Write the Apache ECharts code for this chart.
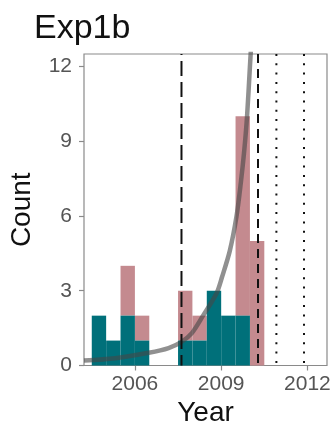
<!DOCTYPE html>
<html>
<head>
<meta charset="utf-8">
<script src="https://cdn.jsdelivr.net/npm/echarts@6/dist/echarts.min.js"></script>
<style>
html,body{margin:0;padding:0;background:#fff;}
#chart{width:336px;height:433px;}
</style>
</head>
<body>
<div id="chart"></div>
<script>
// ---- data ----
var binStarts = [2004.5, 2005, 2005.5, 2006, 2007.5, 2008, 2008.5, 2009, 2009.5, 2010];
var binWidth = 0.5;
var tealCounts = [2, 1, 2, 1, 1, 1, 3, 2, 2, 0];
var pinkCounts = [0, 0, 2, 1, 2, 1, 0, 0, 8, 5]; // stacked on top of teal
var curveYears = [2004.23, 2005.32, 2006.48, 2007.17, 2007.62, 2007.98, 2008.37, 2008.84, 2009.03, 2009.30, 2009.53, 2009.68, 2009.80, 2009.90, 2010.00, 2010.06];
var curveCounts = [0.20, 0.29, 0.51, 0.70, 0.95, 1.30, 2.00, 2.90, 3.55, 4.60, 5.96, 7.30, 8.60, 10.0, 12.0, 13.2];
var longDashYears = [2007.62];
var dashYears = [2010.28];
var dotYears = [2010.92, 2011.88];
var xTickLabels = [2006, 2009, 2012];
var yTickLabels = [0, 3, 6, 9, 12];

var X_MIN = 2004.23, X_MAX = 2012.68, Y_MIN = 0, Y_MAX = 12.5;
var FONT = 'Liberation Sans, Arial, Helvetica, sans-serif';

function binData(counts, bases) {
  return binStarts.map(function (s, i) {
    return [s, s + binWidth, bases ? bases[i] : 0, (bases ? bases[i] : 0) + counts[i]];
  });
}

function barRender(color) {
  return function (params, api) {
    var x0 = api.value(0), x1 = api.value(1), y0 = api.value(2), y1 = api.value(3);
    if (y1 <= y0) return null;
    var p0 = api.coord([x0, y0]);
    var p1 = api.coord([x1, y1]);
    return {
      type: 'rect',
      shape: { x: p0[0], y: p1[1], width: p1[0] - p0[0], height: p0[1] - p1[1] },
      style: { fill: color }
    };
  };
}

function vline(x, dash, width, offset) {
  return {
    type: 'line',
    data: [[x, Y_MAX], [x, Y_MIN]],
    symbol: 'none',
    silent: true,
    z: 5,
    lineStyle: { color: '#111', width: width, type: dash, dashOffset: offset || 0 },
    animation: false
  };
}

var series = [
  {
    type: 'custom', renderItem: barRender('#c48a8f'),
    data: binData(pinkCounts, tealCounts), encode: { x: [0, 1], y: [2, 3] }, z: 2, animation: false
  },
  {
    type: 'custom', renderItem: barRender('#00707a'),
    data: binData(tealCounts, null), encode: { x: [0, 1], y: [2, 3] }, z: 3, animation: false
  },
  {
    type: 'line',
    data: curveYears.map(function (y, i) { return [y, curveCounts[i]]; }),
    symbol: 'none', smooth: 0.3, clip: true, z: 4,
    lineStyle: { color: 'rgba(70,70,70,0.6)', width: 4.5, cap: 'butt' },
    animation: false
  }
];
longDashYears.forEach(function (x) { series.push(vline(x, [15, 6], 2, 14)); });
dashYears.forEach(function (x) { series.push(vline(x, [9, 6], 2, 0)); });
dotYears.forEach(function (x) { series.push(vline(x, [2, 7.3], 2, 0)); });

var chart = echarts.init(document.getElementById('chart'), null, { renderer: 'canvas' });
chart.setOption({
  backgroundColor: '#fff',
  animation: false,
  title: {
    text: 'Exp1b', left: 29, top: 7,
    textStyle: { fontFamily: FONT, fontSize: 34, fontWeight: 'normal', color: '#111' }
  },
  grid: {
    left: 84, right: 9, top: 54, bottom: 67.5,
    show: true, borderColor: '#8a8a8a', borderWidth: 1.2, backgroundColor: '#fff',
    outerBoundsMode: 'none', containLabel: false
  },
  xAxis: {
    type: 'value', min: X_MIN, max: X_MAX,
    name: 'Year', nameLocation: 'middle', nameGap: 34,
    nameTextStyle: { fontFamily: FONT, fontSize: 28, color: '#111' },
    axisLine: { show: false },
    splitLine: { show: false },
    axisTick: { show: true, length: 5, lineStyle: { color: '#8a8a8a', width: 1.2 }, customValues: xTickLabels },
    axisLabel: { fontFamily: FONT, fontSize: 21, color: '#555', margin: 8, customValues: xTickLabels,
      formatter: function (v) { return String(v); } }
  },
  yAxis: {
    type: 'value', min: Y_MIN, max: Y_MAX,
    name: 'Count', nameLocation: 'middle', nameGap: 48, nameRotate: 90,
    nameTextStyle: { fontFamily: FONT, fontSize: 28, color: '#111' },
    axisLine: { show: false },
    splitLine: { show: false },
    axisTick: { show: true, length: 5, lineStyle: { color: '#8a8a8a', width: 1.2 }, customValues: yTickLabels },
    axisLabel: { fontFamily: FONT, fontSize: 21, color: '#555', margin: 12, customValues: yTickLabels,
      formatter: function (v) { return String(v); } }
  },
  series: series
});
</script>
</body>
</html>
